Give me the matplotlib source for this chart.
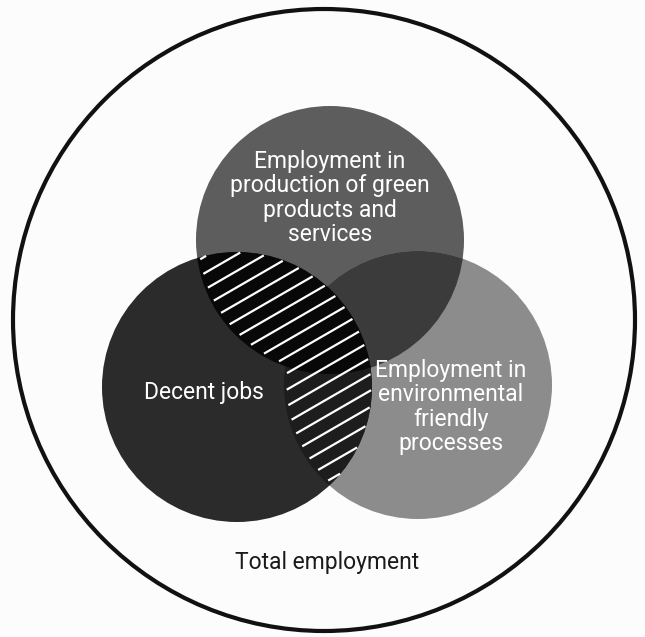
import numpy as np
import matplotlib
matplotlib.use("Agg")
import matplotlib.pyplot as plt
from matplotlib.patches import Circle

# circle labels
label_top = "Employment in\nproduction of green\nproducts and\nservices"
label_left = "Decent jobs"
label_right = "Employment in\nenvironmental\nfriendly\nprocesses"
label_total = "Total employment"

# geometry in pixel coordinates (x right, y down)
OUTER = (324, 320, 311)
TOP = (330, 240, 134)
LEFT = (237, 387, 135)
RIGHT = (418, 385, 134)

BG = "#fcfcfc"
C_TOP = "#5d5d5d"
C_RIGHT = "#8c8c8c"
C_TOP_RIGHT = "#3b3b3b"
C_LEFT = "#2b2b2b"
C_LEFT_RIGHT = "#1d1d1d"
C_LEFT_TOP = "#080808"

FONT = ["Roboto", "DejaVu Sans"]


def circ(c, color, **kw):
    return Circle((c[0], c[1]), c[2], facecolor=color, edgecolor="none", **kw)


def chord(c, p0, d):
    # parameter interval of line p0 + t*d inside circle c
    f = p0 - np.array(c[:2])
    b = np.dot(f, d)
    disc = b * b - (np.dot(f, f) - c[2] ** 2)
    if disc <= 0:
        return None
    s = np.sqrt(disc)
    return (-b - s, -b + s)


fig = plt.figure(figsize=(6.45, 6.37), dpi=100, facecolor=BG)
ax = fig.add_axes([0, 0, 1, 1])
ax.set_xlim(0, 645)
ax.set_ylim(637, 0)
ax.set_aspect("equal")
ax.axis("off")
ax.set_facecolor(BG)

# outer ring
ax.add_patch(Circle(OUTER[:2], OUTER[2], facecolor="none",
                    edgecolor="#111111", linewidth=3.0))

# base circles
ax.add_patch(circ(TOP, C_TOP))
ax.add_patch(circ(RIGHT, C_RIGHT))
rclip = circ(RIGHT, "none")
ax.add_patch(rclip)
p = circ(TOP, C_TOP_RIGHT)
ax.add_patch(p)
p.set_clip_path(rclip)

ax.add_patch(circ(LEFT, C_LEFT))
lclip = circ(LEFT, "none")
ax.add_patch(lclip)
p = circ(RIGHT, C_LEFT_RIGHT)
ax.add_patch(p)
p.set_clip_path(lclip)
p = circ(TOP, C_LEFT_TOP)
ax.add_patch(p)
p.set_clip_path(lclip)

# white hatch over left ∩ (top ∪ right)
ang = np.deg2rad(30)
d = np.array([np.cos(ang), -np.sin(ang)])
nrm = np.array([np.sin(ang), np.cos(ang)])
for off in np.arange(-200, 200, 14.2):
    p0 = np.array(LEFT[:2]) + nrm * off
    lt = chord(LEFT, p0, d)
    if lt is None:
        continue
    others = [iv for iv in (chord(TOP, p0, d), chord(RIGHT, p0, d)) if iv]
    if not others:
        continue
    # union of the other chords, then intersect with the left chord
    others.sort()
    merged = [list(others[0])]
    for a, b in others[1:]:
        if a <= merged[-1][1]:
            merged[-1][1] = max(merged[-1][1], b)
        else:
            merged.append([a, b])
    for a, b in merged:
        t0, t1 = max(a, lt[0]) + 3, min(b, lt[1]) - 1
        if t1 > t0:
            q0, q1 = p0 + t0 * d, p0 + t1 * d
            ax.plot([q0[0], q1[0]], [q0[1], q1[1]], color="white",
                    linewidth=1.6, solid_capstyle="butt")

txt = dict(color="white", fontsize=16.5, family=FONT, ha="center",
           va="center", linespacing=1.08)
ax.text(330, 198, label_top, **txt)
ax.text(204, 392, label_left, **txt)
ax.text(451, 407, label_right, **txt)
ax.text(327, 563, label_total, color="#1a1a1a", fontsize=16.5,
        family=FONT, ha="center", va="center")

fig.savefig("out.png", dpi=100, facecolor=BG)
